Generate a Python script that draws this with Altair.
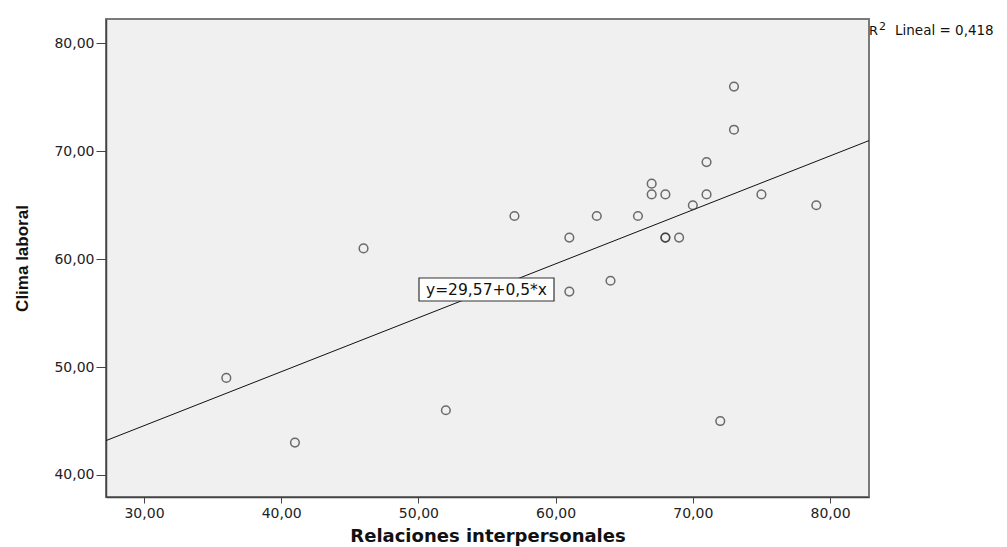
import altair as alt
import pandas as pd

# Relaciones interpersonales (x) vs Clima laboral (y)
relaciones = [36, 41, 46, 52, 57, 61, 61, 63, 64, 66, 67, 67, 68, 68, 68, 69, 70, 71, 71, 72, 73, 73, 75, 79]
clima = [49, 43, 61, 46, 64, 62, 57, 64, 58, 64, 67, 66, 66, 62, 62, 62, 65, 69, 66, 45, 76, 72, 66, 65]

x_domain = [27.23, 82.84]
y_domain = [37.96, 82.26]
x_ticks = [30, 40, 50, 60, 70, 80]
y_ticks = [40, 50, 60, 70, 80]

intercept = 29.57
slope = 0.5
eq_label = "y=29,57+0,5*x"
r2_label = "Lineal = 0,418"

pts = pd.DataFrame({"x": relaciones, "y": clima})
fit = pd.DataFrame({"x": x_domain, "y": [intercept + slope * v for v in x_domain]})

FONT = "DejaVu Sans"
fmt = "replace(format(datum.value, '.2f'), '.', ',')"

xscale = alt.Scale(domain=x_domain, nice=False, zero=False)
yscale = alt.Scale(domain=y_domain, nice=False, zero=False)

xaxis = alt.Axis(values=x_ticks, labelExpr=fmt, title="Relaciones interpersonales",
                 grid=False, tickSize=6, tickColor="#444", labelPadding=3,
                 labelFont=FONT, labelFontSize=14, labelColor="#222",
                 titleFont=FONT, titleFontSize=18, titleFontWeight="bold", titleColor="#111",
                 titlePadding=7, domainColor="#444", domainWidth=1.5)
yaxis = alt.Axis(values=y_ticks, labelExpr=fmt, title="Clima laboral",
                 grid=False, tickSize=10, tickColor="#444", labelPadding=2,
                 labelFont=FONT, labelFontSize=14, labelColor="#222",
                 titleFont="Liberation Sans", titleFontSize=17, titleFontWeight="bold",
                 titleColor="#111", titlePadding=22, domainColor="#444", domainWidth=1.5)

points = alt.Chart(pts).mark_point(shape="circle", filled=False, size=75,
                                   stroke="#333", strokeWidth=1.5).encode(
    x=alt.X("x:Q", scale=xscale, axis=xaxis),
    y=alt.Y("y:Q", scale=yscale, axis=yaxis),
)

line = alt.Chart(fit).mark_line(color="#111", strokeWidth=1).encode(
    x=alt.X("x:Q", scale=xscale),
    y=alt.Y("y:Q", scale=yscale),
)

box = alt.Chart(pd.DataFrame({"t": [eq_label]})).mark_rect(
    fill="white", stroke="#333", strokeWidth=1.2).encode(
    x=alt.value(313), x2=alt.value(448), y=alt.value(259), y2=alt.value(282))

eq = alt.Chart(pd.DataFrame({"t": [eq_label]})).mark_text(
    font=FONT, fontSize=15.5, color="#111", align="center", baseline="middle").encode(
    x=alt.value(380.5), y=alt.value(271), text="t:N")

r_txt = alt.Chart(pd.DataFrame({"t": ["R"]})).mark_text(
    font=FONT, fontSize=13, color="#111", align="left", baseline="alphabetic").encode(
    x=alt.value(763), y=alt.value(16), text="t:N")
sup = alt.Chart(pd.DataFrame({"t": ["2"]})).mark_text(
    font=FONT, fontSize=11, color="#111", align="left", baseline="alphabetic").encode(
    x=alt.value(773), y=alt.value(11), text="t:N")
r2 = alt.Chart(pd.DataFrame({"t": [r2_label]})).mark_text(
    font=FONT, fontSize=13.5, color="#111", align="left", baseline="alphabetic").encode(
    x=alt.value(789), y=alt.value(16), text="t:N")

chart = alt.layer(line, points, box, eq, r_txt, sup, r2).properties(
    width=763, height=478,
    autosize=alt.AutoSizeParams(type="none"),
    padding={"left": 106, "top": 19, "right": 138, "bottom": 50},
    background="white",
).configure_view(fill="#F0F0F0", stroke="#7a7a7a", strokeWidth=2)

chart.save("out.html", embed_options={"renderer": "svg", "actions": False})
